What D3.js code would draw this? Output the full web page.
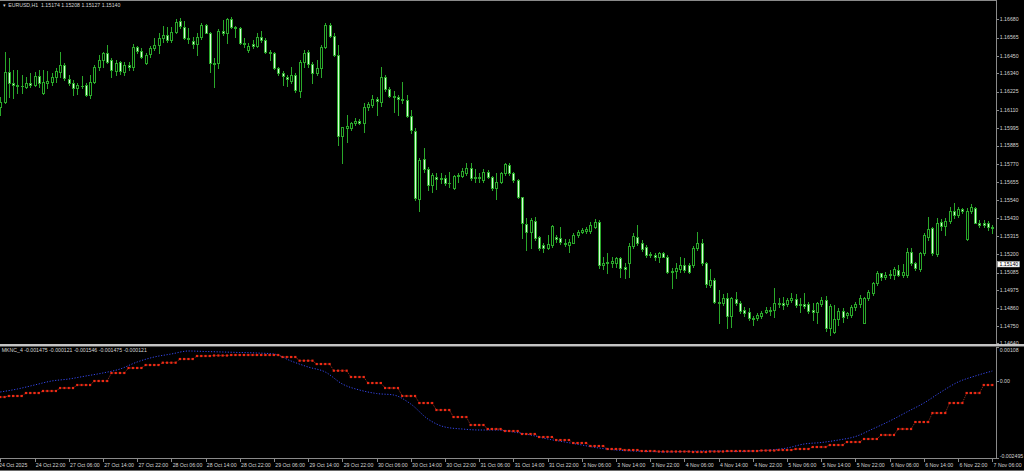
<!DOCTYPE html>
<html><head><meta charset="utf-8">
<script src="https://cdn.jsdelivr.net/npm/d3@7"></script>
<style>html,body{margin:0;padding:0;background:#000;overflow:hidden}svg{display:block}</style>
</head><body><svg id="c" width="1024" height="471"></svg>
<script>
const symbolTitle = "EURUSD,H1  1.15174 1.15208 1.15127 1.15140";
const indicatorTitle = "MKNC_4 -0.001475 -0.000121 -0.001546 -0.001475 -0.000121";
const currentPrice = 1.15140;

const open = [1.16130,1.16161,1.16351,1.16277,1.16266,1.16262,1.16256,1.16277,1.16266,1.16323,
1.16214,1.16277,1.16288,1.16315,1.16351,1.16393,1.16304,1.16277,1.16246,1.16262,
1.16266,1.16204,1.16288,1.16382,1.16424,1.16466,1.16424,1.16357,1.16414,1.16351,
1.16393,1.16382,1.16508,1.16483,1.16403,1.16460,1.16498,1.16519,1.16561,1.16582,
1.16550,1.16603,1.16672,1.16634,1.16561,1.16546,1.16525,1.16571,1.16645,1.16596,
1.16407,1.16403,1.16609,1.16592,1.16680,1.16634,1.16624,1.16529,1.16487,1.16525,
1.16512,1.16571,1.16550,1.16477,1.16470,1.16372,1.16344,1.16319,1.16294,1.16330,
1.16231,1.16414,1.16477,1.16399,1.16344,1.16372,1.16508,1.16645,1.16575,1.16456,
1.15945,1.15994,1.15994,1.16029,1.16042,1.16029,1.16126,1.16141,1.16176,1.16161,
1.16319,1.16239,1.16197,1.16193,1.16176,1.16172,1.16071,1.15979,1.15546,1.15798,
1.15735,1.15637,1.15689,1.15672,1.15679,1.15647,1.15616,1.15693,1.15693,1.15714,
1.15742,1.15679,1.15685,1.15668,1.15721,1.15689,1.15616,1.15658,1.15710,1.15763,
1.15710,1.15668,1.15559,1.15391,1.15343,1.15412,1.15307,1.15259,1.15238,1.15259,
1.15307,1.15301,1.15273,1.15259,1.15273,1.15322,1.15343,1.15349,1.15349,1.15374,
1.15406,1.15133,1.15147,1.15147,1.15143,1.15175,1.15122,1.15143,1.15252,1.15311,
1.15273,1.15248,1.15193,1.15196,1.15185,1.15206,1.15185,1.15091,1.15097,1.15105,
1.15133,1.15133,1.15133,1.15238,1.15273,1.15143,1.15006,1.15038,1.14902,1.14891,
1.14923,1.14811,1.14916,1.14895,1.14849,1.14839,1.14797,1.14797,1.14811,1.14839,
1.14849,1.14849,1.14895,1.14891,1.14887,1.14912,1.14916,1.14881,1.14887,1.14887,
1.14849,1.14839,1.14887,1.14912,1.14734,1.14713,1.14790,1.14845,1.14818,1.14818,
1.14866,1.14887,1.14769,1.14923,1.14958,1.15017,1.15080,1.15059,1.15067,1.15070,
1.15101,1.15070,1.15070,1.15217,1.15143,1.15105,1.15206,1.15307,1.15364,1.15202,
1.15406,1.15378,1.15412,1.15475,1.15448,1.15483,1.15294,1.15475,1.15490,1.15399,
1.15399,1.15399,1.15374];
const high = [1.16193,1.16477,1.16435,1.16361,1.16361,1.16330,1.16319,1.16340,1.16351,1.16361,
1.16361,1.16357,1.16340,1.16372,1.16477,1.16403,1.16330,1.16298,1.16277,1.16323,
1.16277,1.16330,1.16393,1.16456,1.16477,1.16519,1.16435,1.16424,1.16420,1.16414,
1.16414,1.16525,1.16512,1.16498,1.16466,1.16512,1.16561,1.16592,1.16638,1.16634,
1.16634,1.16680,1.16687,1.16672,1.16624,1.16571,1.16592,1.16655,1.16651,1.16603,
1.16435,1.16617,1.16676,1.16687,1.16693,1.16638,1.16634,1.16561,1.16529,1.16550,
1.16592,1.16609,1.16561,1.16487,1.16477,1.16382,1.16357,1.16330,1.16382,1.16340,
1.16424,1.16487,1.16487,1.16414,1.16424,1.16519,1.16655,1.16659,1.16592,1.16519,
1.16004,1.16078,1.16036,1.16057,1.16050,1.16155,1.16161,1.16204,1.16193,1.16378,
1.16330,1.16252,1.16231,1.16204,1.16288,1.16204,1.16109,1.15994,1.15805,1.15868,
1.15752,1.15710,1.15710,1.15710,1.15700,1.15721,1.15700,1.15710,1.15742,1.15773,
1.15777,1.15735,1.15710,1.15735,1.15731,1.15693,1.15710,1.15721,1.15777,1.15773,
1.15721,1.15672,1.15563,1.15427,1.15427,1.15437,1.15315,1.15269,1.15322,1.15385,
1.15322,1.15374,1.15294,1.15294,1.15332,1.15353,1.15364,1.15374,1.15406,1.15420,
1.15416,1.15185,1.15206,1.15185,1.15185,1.15185,1.15143,1.15269,1.15332,1.15385,
1.15290,1.15259,1.15217,1.15206,1.15217,1.15217,1.15196,1.15112,1.15143,1.15181,
1.15175,1.15143,1.15252,1.15343,1.15294,1.15154,1.15105,1.15049,1.14975,1.14950,
1.14954,1.14933,1.14965,1.14908,1.14870,1.14860,1.14811,1.14832,1.14845,1.14866,
1.14870,1.14986,1.14923,1.14933,1.14923,1.14954,1.14950,1.14923,1.14954,1.14902,
1.14891,1.14902,1.14933,1.14937,1.14887,1.14881,1.14860,1.14860,1.14839,1.14881,
1.14902,1.14944,1.14933,1.14975,1.15028,1.15097,1.15084,1.15091,1.15101,1.15122,
1.15133,1.15139,1.15238,1.15238,1.15154,1.15217,1.15332,1.15437,1.15374,1.15427,
1.15420,1.15427,1.15500,1.15525,1.15496,1.15490,1.15490,1.15517,1.15500,1.15416,
1.15416,1.15412,1.15385];
const low = [1.16078,1.16151,1.16193,1.16183,1.16214,1.16214,1.16246,1.16256,1.16260,1.16256,
1.16210,1.16246,1.16266,1.16288,1.16315,1.16298,1.16266,1.16204,1.16210,1.16246,
1.16197,1.16183,1.16277,1.16361,1.16382,1.16403,1.16319,1.16330,1.16336,1.16330,
1.16361,1.16361,1.16466,1.16435,1.16399,1.16445,1.16487,1.16466,1.16540,1.16540,
1.16540,1.16592,1.16624,1.16554,1.16529,1.16498,1.16456,1.16554,1.16592,1.16351,
1.16256,1.16372,1.16582,1.16533,1.16624,1.16571,1.16525,1.16508,1.16477,1.16498,
1.16504,1.16540,1.16470,1.16424,1.16365,1.16330,1.16266,1.16260,1.16277,1.16225,
1.16193,1.16382,1.16382,1.16277,1.16330,1.16319,1.16498,1.16567,1.16449,1.15889,
1.15777,1.15910,1.15983,1.16015,1.16021,1.15973,1.16109,1.16130,1.16078,1.16134,
1.16231,1.16189,1.16099,1.16078,1.16151,1.16063,1.15966,1.15542,1.15475,1.15721,
1.15605,1.15595,1.15609,1.15651,1.15637,1.15626,1.15609,1.15658,1.15685,1.15700,
1.15668,1.15658,1.15658,1.15658,1.15679,1.15605,1.15546,1.15647,1.15700,1.15700,
1.15658,1.15553,1.15301,1.15227,1.15238,1.15290,1.15227,1.15217,1.15231,1.15248,
1.15280,1.15265,1.15252,1.15217,1.15269,1.15311,1.15332,1.15332,1.15332,1.15364,
1.15112,1.15105,1.15080,1.15122,1.15122,1.15059,1.15049,1.15059,1.15238,1.15259,
1.15223,1.15185,1.15181,1.15164,1.15154,1.15181,1.15080,1.14986,1.15049,1.15091,
1.15091,1.15084,1.15122,1.15227,1.15133,1.14996,1.14992,1.14891,1.14769,1.14881,
1.14734,1.14744,1.14881,1.14832,1.14811,1.14786,1.14755,1.14786,1.14797,1.14828,
1.14818,1.14807,1.14870,1.14853,1.14874,1.14902,1.14870,1.14839,1.14860,1.14828,
1.14786,1.14765,1.14874,1.14719,1.14691,1.14702,1.14755,1.14776,1.14797,1.14807,
1.14849,1.14870,1.14765,1.14912,1.14944,1.15006,1.15038,1.15042,1.15049,1.15042,
1.15063,1.15059,1.15059,1.15133,1.15101,1.15097,1.15196,1.15290,1.15196,1.15189,
1.15353,1.15322,1.15399,1.15427,1.15437,1.15458,1.15290,1.15458,1.15395,1.15374,
1.15374,1.15353,1.15332];
const close = [1.16162,1.16351,1.16277,1.16266,1.16262,1.16260,1.16277,1.16266,1.16323,1.16281,
1.16288,1.16292,1.16319,1.16357,1.16393,1.16309,1.16281,1.16246,1.16266,1.16260,
1.16204,1.16288,1.16382,1.16424,1.16466,1.16414,1.16361,1.16407,1.16357,1.16393,
1.16382,1.16508,1.16483,1.16445,1.16456,1.16502,1.16519,1.16561,1.16582,1.16550,
1.16603,1.16666,1.16638,1.16561,1.16554,1.16525,1.16571,1.16645,1.16596,1.16407,
1.16399,1.16609,1.16592,1.16680,1.16634,1.16626,1.16529,1.16523,1.16512,1.16512,
1.16571,1.16550,1.16477,1.16470,1.16372,1.16344,1.16323,1.16302,1.16330,1.16235,
1.16414,1.16470,1.16399,1.16344,1.16372,1.16508,1.16645,1.16575,1.16456,1.15945,
1.16000,1.16008,1.16029,1.16042,1.16029,1.16126,1.16147,1.16176,1.16168,1.16319,
1.16239,1.16197,1.16189,1.16176,1.16172,1.16071,1.15983,1.15553,1.15794,1.15735,
1.15637,1.15700,1.15672,1.15679,1.15647,1.15651,1.15693,1.15700,1.15727,1.15742,
1.15679,1.15685,1.15679,1.15721,1.15689,1.15616,1.15658,1.15710,1.15769,1.15710,
1.15668,1.15563,1.15395,1.15343,1.15416,1.15301,1.15238,1.15238,1.15265,1.15378,
1.15298,1.15280,1.15265,1.15280,1.15322,1.15343,1.15353,1.15357,1.15385,1.15406,
1.15133,1.15147,1.15154,1.15160,1.15175,1.15112,1.15105,1.15252,1.15315,1.15273,
1.15231,1.15196,1.15202,1.15185,1.15206,1.15185,1.15091,1.15097,1.15112,1.15133,
1.15101,1.15091,1.15238,1.15269,1.15143,1.15013,1.15038,1.14902,1.14891,1.14923,
1.14811,1.14923,1.14891,1.14845,1.14828,1.14797,1.14790,1.14818,1.14828,1.14849,
1.14843,1.14895,1.14887,1.14881,1.14912,1.14923,1.14881,1.14887,1.14874,1.14845,
1.14839,1.14891,1.14912,1.14734,1.14874,1.14790,1.14845,1.14807,1.14828,1.14866,
1.14887,1.14923,1.14923,1.14965,1.15017,1.15080,1.15059,1.15070,1.15076,1.15105,
1.15070,1.15091,1.15217,1.15143,1.15112,1.15206,1.15322,1.15357,1.15206,1.15399,
1.15378,1.15412,1.15475,1.15448,1.15483,1.15475,1.15475,1.15496,1.15399,1.15385,
1.15385,1.15374,1.15364];

const priceTicks = [1.16680,1.16565,1.16450,1.16340,1.16225,1.16110,1.15995,1.15885,1.15770,1.15655,
1.15540,1.15430,1.15315,1.15200,1.15085,1.14975,1.14860,1.14750,1.14640];

const timeLabels = ["24 Oct 2025","24 Oct 22:00","27 Oct 06:00","27 Oct 14:00","27 Oct 22:00","28 Oct 06:00",
"28 Oct 14:00","28 Oct 22:00","29 Oct 06:00","29 Oct 14:00","29 Oct 22:00","30 Oct 06:00","30 Oct 14:00",
"30 Oct 22:00","31 Oct 06:00","31 Oct 14:00","31 Oct 22:00","3 Nov 06:00","3 Nov 14:00","3 Nov 22:00",
"4 Nov 06:00","4 Nov 14:00","4 Nov 22:00","5 Nov 06:00","5 Nov 14:00","5 Nov 22:00","6 Nov 06:00",
"6 Nov 14:00","6 Nov 22:00","7 Nov 06:00"];
const timeLabelBars = [0,8,16,24,32,40,48,56,64,72,80,88,96,104,112,120,128,136,144,152,160,168,176,184,192,200,208,216,224,232];

const indTicks = [0.00108, 0.00, -0.002495];
const indTickText = ["0.00108", "0.00", "-0.002495"];

// blue dotted MKNC line, sampled every 4 bars starting at bar 0
const mkncBlueBars = [0,4,8,12,16,20,24,28,32,36,40,44,48,52,56,60,64,68,72,76,80,84,88,92,96,100,104,108,112,116,
120,124,128,132,136,140,144,148,152,156,160,164,168,172,176,180,184,188,192,196,200,204,208,212,216,220,224,228,232];
const mkncBlue = [-0.000369,-0.000273,-0.000144,-0.000015,0.000049,0.000146,0.000243,0.000371,0.000597,0.000758,
0.000855,0.000951,0.000935,0.000919,0.000903,0.000887,0.000855,0.000629,0.000436,0.000275,
-0.000112,-0.000305,-0.000418,-0.000466,-0.000756,-0.001239,-0.001497,-0.001561,-0.001593,-0.001593,
-0.001658,-0.001754,-0.001883,-0.001980,-0.002077,-0.002173,-0.002238,-0.002270,-0.002286,-0.002302,
-0.002286,-0.002270,-0.002270,-0.002286,-0.002270,-0.002238,-0.002173,-0.002044,-0.001996,-0.001916,
-0.001803,-0.001561,-0.001304,-0.001014,-0.000724,-0.000369,-0.000047,0.000146,0.000307];

// red stepped MKNC line: one value per H4 block (bars 0-1, then blocks of 4 bars from bar 2)
const mkncRedH4 = [-0.000531,-0.000498,-0.000402,-0.000337,-0.000241,-0.000144,-0.000015,0.000243,0.000404,0.000500,
0.000574,0.000693,0.000790,0.000806,0.000822,0.000822,0.000822,0.000758,0.000639,0.000532,
0.000317,0.000114,-0.000080,-0.000241,-0.000498,-0.000724,-0.000949,-0.001175,-0.001432,-0.001561,
-0.001626,-0.001722,-0.001819,-0.001916,-0.002012,-0.002109,-0.002205,-0.002238,-0.002270,-0.002286,
-0.002286,-0.002302,-0.002286,-0.002270,-0.002270,-0.002254,-0.002238,-0.002205,-0.002141,-0.002077,
-0.001980,-0.001883,-0.001754,-0.001561,-0.001336,-0.001046,-0.000724,-0.000402,-0.000144];

const svg = d3.select("#c");
const FONT = "'Liberation Sans', Arial, sans-serif";
const TXT = "#d4d4d4";
const GRAY = "#8a8a8a";
const WICK = "#2aa82a";
const BEARFILL = "#d6ffd6";

const N = open.length;
const x = d3.scaleLinear().domain([0, N - 1]).range([0.3, 992.3]);
const y = d3.scaleLinear().domain([1.14640, 1.16680]).range([343.3, 19.3]);
const yi = d3.scaleLinear().domain([-0.002495, 0.00108]).range([458, 347]);

svg.append("rect").attr("width", 1024).attr("height", 471).attr("fill", "#000");

const defs = svg.append("defs");
defs.append("clipPath").attr("id", "mainClip").append("rect").attr("x", 0).attr("y", 1).attr("width", 996).attr("height", 343);
defs.append("clipPath").attr("id", "indClip").append("rect").attr("x", 0).attr("y", 347).attr("width", 996).attr("height", 111);

// candles
const bars = d3.range(N).map(i => ({i, o: open[i], h: high[i], l: low[i], c: close[i]}));
const gMain = svg.append("g").attr("clip-path", "url(#mainClip)");
const cg = gMain.selectAll("g.candle").data(bars).join("g").attr("class", "candle");
cg.append("line")
  .attr("x1", d => Math.round(x(d.i)) + 0.5).attr("x2", d => Math.round(x(d.i)) + 0.5)
  .attr("y1", d => Math.round(y(d.h))).attr("y2", d => Math.round(y(d.l)) + 1)
  .attr("stroke", WICK).attr("stroke-width", 1);
cg.append("rect")
  .attr("x", d => Math.round(x(d.i)) - 0.5)
  .attr("width", 2)
  .attr("y", d => Math.round(y(Math.max(d.o, d.c))) + 0.5)
  .attr("height", d => Math.max(0.01, Math.round(y(Math.min(d.o, d.c))) - Math.round(y(Math.max(d.o, d.c)))))
  .attr("fill", d => d.c < d.o ? BEARFILL : "#000")
  .attr("stroke", WICK).attr("stroke-width", 1);

// frame lines
svg.append("line").attr("x1", 0).attr("x2", 997).attr("y1", 0.5).attr("y2", 0.5).attr("stroke", GRAY);
svg.append("line").attr("x1", 996.5).attr("x2", 996.5).attr("y1", 0).attr("y2", 459).attr("stroke", GRAY);
svg.append("rect").attr("x", 0).attr("y", 344).attr("width", 1024).attr("height", 2).attr("fill", "#c4c4c4");
svg.append("line").attr("x1", 0).attr("x2", 1024).attr("y1", 346.5).attr("y2", 346.5).attr("stroke", "#5a5a5a");
svg.append("line").attr("x1", 0).attr("x2", 997).attr("y1", 458.5).attr("y2", 458.5).attr("stroke", GRAY);
svg.append("line").attr("x1", 0).attr("x2", 1024).attr("y1", 470.5).attr("y2", 470.5).attr("stroke", "#6a6a6a");

// price axis
const pa = svg.append("g");
pa.selectAll("line.pt").data(priceTicks).join("line")
  .attr("x1", 996.5).attr("x2", 999).attr("y1", d => Math.round(y(d)) + 0.5).attr("y2", d => Math.round(y(d)) + 0.5)
  .attr("stroke", GRAY);
pa.selectAll("text.pl").data(priceTicks).join("text")
  .attr("x", 999.8).attr("y", d => y(d)).attr("dy", "0.36em")
  .attr("font-family", FONT).attr("font-size", 5.2).attr("fill", TXT)
  .text(d => d.toFixed(5));

// current price box
const cpY = y(currentPrice);
svg.append("rect").attr("x", 997.5).attr("y", Math.round(cpY) - 2.5).attr("width", 22).attr("height", 5.5)
  .attr("fill", "#fff").attr("stroke", "#b0b0b0").attr("stroke-width", 0.5);
svg.append("text").attr("x", 999.5).attr("y", cpY).attr("dy", "0.36em")
  .attr("font-family", FONT).attr("font-size", 5.2).attr("fill", "#000").text(currentPrice.toFixed(5));

// titles
svg.append("text").attr("x", 2.2).attr("y", 6.8).attr("font-family", FONT).attr("font-size", 4.2).attr("fill", TXT).text("\u25BC");
svg.append("text").attr("x", 8.2).attr("y", 6.8).attr("font-family", FONT).attr("font-size", 5.2).attr("fill", TXT)
  .attr("xml:space", "preserve").style("white-space", "pre").text(symbolTitle);
svg.append("text").attr("x", 1.8).attr("y", 352.3).attr("font-family", FONT).attr("font-size", 5.2).attr("fill", TXT)
  .text(indicatorTitle);

// indicator
const gInd = svg.append("g").attr("clip-path", "url(#indClip)");
const blueLine = d3.line().x((d, k) => x(mkncBlueBars[k])).y(d => yi(d)).curve(d3.curveMonotoneX);
gInd.append("path").attr("d", blueLine(mkncBlue)).attr("fill", "none")
  .attr("stroke", "#3648ee").attr("stroke-width", 1).attr("stroke-dasharray", "1.2,1.6");

const redPerBar = d3.range(N).map(i => ({i, v: mkncRedH4[i < 2 ? 0 : 1 + Math.floor((i - 2) / 4)]}));
const redLine = d3.line().x(d => x(d.i)).y(d => yi(d.v));
gInd.append("path").attr("d", redLine(redPerBar)).attr("fill", "none")
  .attr("stroke", "#9a3020").attr("stroke-width", 1).attr("stroke-dasharray", "1,1");
gInd.selectAll("rect.rd").data(redPerBar).join("rect")
  .attr("x", d => x(d.i) - 1.1).attr("y", d => yi(d.v) - 1.1).attr("width", 2.2).attr("height", 2.2)
  .attr("fill", "#f02a14");

// indicator axis
svg.selectAll("line.it").data(indTicks).join("line")
  .attr("x1", 996.5).attr("x2", 999).attr("y1", d => Math.round(yi(d)) + 0.5).attr("y2", d => Math.round(yi(d)) + 0.5)
  .attr("stroke", GRAY);
svg.selectAll("text.il").data(indTicks).join("text")
  .attr("x", 999.8)
  .attr("y", (d, k) => k === 0 ? yi(d) + 3.2 : (k === 2 ? yi(d) - 2.2 : yi(d) + 0.4))
  .attr("dy", "0.36em")
  .attr("font-family", FONT).attr("font-size", 5.2).attr("fill", TXT)
  .text((d, k) => indTickText[k]);

// time axis
const ta = svg.append("g");
ta.selectAll("line").data(timeLabelBars).join("line")
  .attr("x1", d => Math.round(x(d)) + 0.5).attr("x2", d => Math.round(x(d)) + 0.5)
  .attr("y1", 458.5).attr("y2", 462).attr("stroke", GRAY);
ta.selectAll("text").data(timeLabelBars).join("text")
  .attr("x", (d, k) => k === 0 ? -1 : x(d) + 1.3).attr("y", 466.6)
  .attr("font-family", FONT).attr("font-size", 5.2).attr("fill", TXT)
  .text((d, k) => timeLabels[k]);
</script>
</body></html>
